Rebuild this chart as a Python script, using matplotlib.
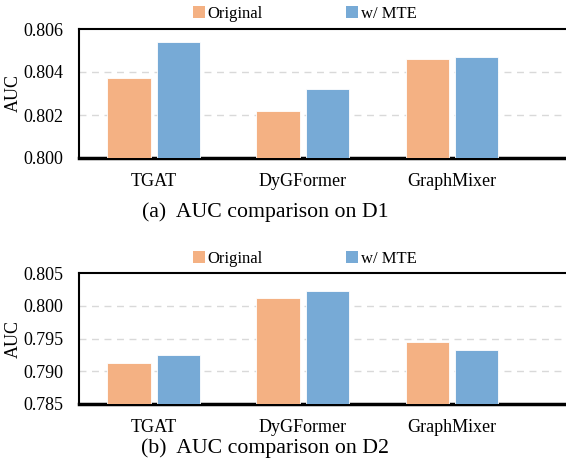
import matplotlib
matplotlib.use("Agg")
import matplotlib.pyplot as plt
import numpy as np
from matplotlib.patches import Patch

plt.rcParams['font.family'] = ['Liberation Serif', 'DejaVu Serif']

categories = ["TGAT", "DyGFormer", "GraphMixer"]
series_names = ["Original", "w/ MTE"]
d1_original = [0.8037, 0.8022, 0.8046]
d1_mte = [0.8054, 0.8032, 0.8047]
d2_original = [0.7913, 0.8012, 0.7945]
d2_mte = [0.7924, 0.8023, 0.7933]
d1_ticks = [0.800, 0.802, 0.804, 0.806]
d2_ticks = [0.785, 0.790, 0.795, 0.800, 0.805]
captions = ["(a)  AUC comparison on D1", "(b)  AUC comparison on D2"]

c_orig = "#F4B183"
c_mte = "#77AAD6"

W, H = 566, 471
fig = plt.figure(figsize=(W / 100, H / 100), dpi=100)

def make_axes(top_px, bot_px):
    left = 79 / W
    right = 577 / W
    return fig.add_axes([left, 1 - bot_px / H, right - left, (bot_px - top_px) / H])

def draw(ax, orig, mte, ticks, caption, cap_y, leg_y):
    x = np.arange(len(categories))
    bw = 0.29
    ax.bar(x - 0.165, orig, bw, color=c_orig, edgecolor="white", linewidth=0.6, zorder=3)
    ax.bar(x + 0.165, mte, bw, color=c_mte, edgecolor="white", linewidth=0.6, zorder=3)
    ax.set_ylim(ticks[0], ticks[-1])
    ax.set_xlim(-0.5, 2.84)
    ax.set_yticks(ticks)
    ax.set_yticklabels([f"{t:.3f}" for t in ticks], fontsize=13)
    ax.set_xticks(x)
    ax.set_xticklabels(categories, fontsize=13)
    ax.tick_params(axis="both", length=0)
    ax.tick_params(axis="x", pad=11)
    ax.tick_params(axis="y", pad=11.5)
    for t in ticks[1:-1]:
        ax.axhline(t, color="#D9D9D9", linestyle=(0, (5, 4)), linewidth=1.0, zorder=1)
    ax.set_ylabel("AUC", fontsize=13)
    ax.yaxis.set_label_coords(-57 / 498, 0.5)
    for s in ["left", "top"]:
        ax.spines[s].set_linewidth(1.5)
        ax.spines[s].set_color("black")
    ax.spines["bottom"].set_linewidth(2.5)
    ax.spines["right"].set_visible(False)
    handles = [Patch(facecolor=c_orig, edgecolor="none"), Patch(facecolor=c_mte, edgecolor="none")]
    fig.legend(handles, series_names, loc="center", bbox_to_anchor=(305 / W, 1 - leg_y / H),
               ncol=2, frameon=False, fontsize=12, handlelength=0.7, handleheight=0.7,
               handletextpad=0.2, columnspacing=5.0)
    fig.text(265 / W, 1 - cap_y / H, caption, ha="center", va="center", fontsize=15.7)

ax1 = make_axes(29, 158)
draw(ax1, d1_original, d1_mte, d1_ticks, captions[0], 212, 14)
ax2 = make_axes(273.3, 403.7)
draw(ax2, d2_original, d2_mte, d2_ticks, captions[1], 448, 259)

fig.savefig("out.png", dpi=100)
